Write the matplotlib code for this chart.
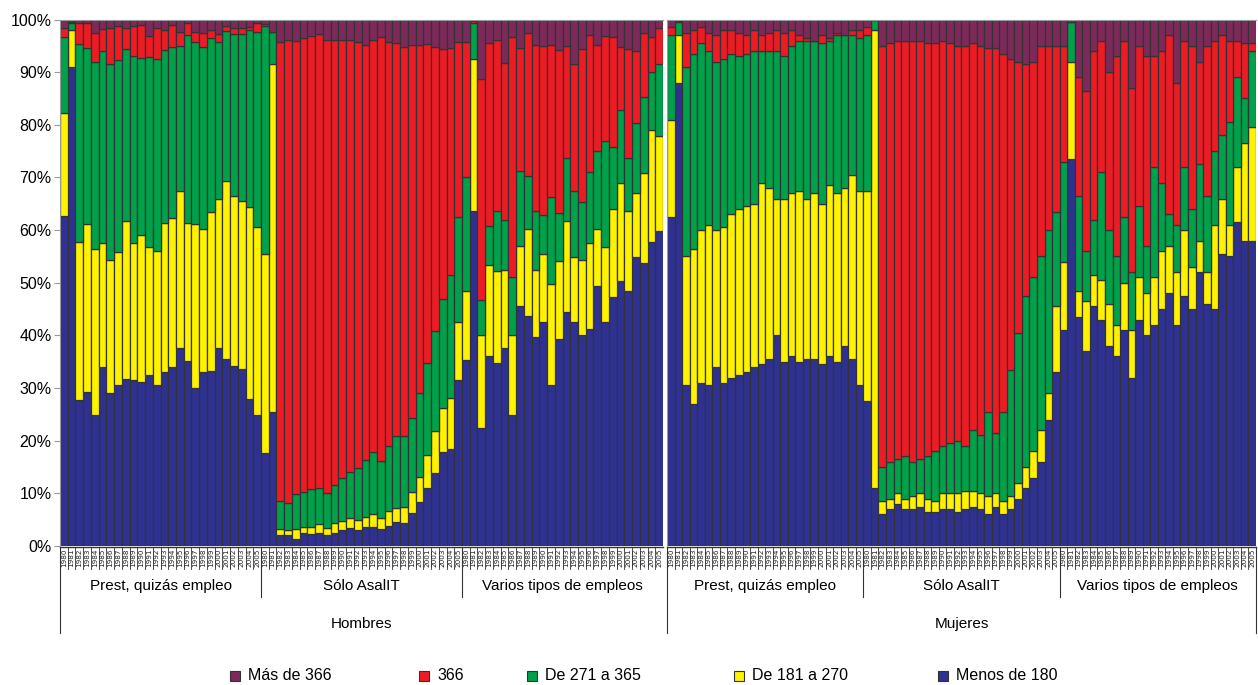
import numpy as np
import matplotlib
matplotlib.use('Agg')
import matplotlib.pyplot as plt
from matplotlib.patches import Rectangle
from matplotlib.lines import Line2D

plt.rcParams['font.family'] = ['Liberation Sans', 'DejaVu Sans']

# ---------------- data (cumulative tops, % ) ----------------
years = [str(y) for y in range(1980, 2005)] + ['2005']
groups = ['Prest, quizás empleo', 'Sólo AsalIT', 'Varios tipos de empleos']
panels = ['Hombres', 'Mujeres']
series = ['Menos de 180', 'De 181 a 270', 'De 271 a 365', '366', 'Más de 366']
colors = ['#2E3192', '#FFF200', '#00A14B', '#ED1C24', '#7D2A5B']

# Hombres
hom_menos180 = [62.6, 91.0, 27.7, 29.2, 24.8, 34.0, 29.0, 30.5, 31.8, 31.5, 31.1, 32.5, 30.5, 33.1, 34.0, 37.6, 35.1, 30.0, 33.0, 33.2, 37.6, 35.6, 34.2, 33.6, 27.9, 24.9,
                17.6, 25.4, 2.0, 2.0, 1.4, 2.4, 2.2, 2.4, 2.0, 2.4, 3.1, 3.4, 3.1, 3.6, 3.6, 3.3, 3.8, 4.5, 4.3, 6.2, 8.3, 11.0, 13.9, 17.9, 18.5, 31.6,
                35.4, 63.6, 22.4, 36.1, 34.8, 37.7, 24.8, 45.6, 43.7, 39.7, 42.5, 30.6, 39.3, 44.5, 42.6, 40.0, 41.3, 49.3, 42.5, 47.2, 50.3, 48.5, 54.9, 53.8, 57.8, 59.8]
hom_181_270 = [82.3, 98.0, 57.7, 61.1, 56.4, 57.6, 54.3, 55.9, 61.8, 57.5, 59.0, 56.7, 56.1, 61.4, 62.3, 67.5, 61.3, 61.1, 60.2, 63.4, 66.0, 69.4, 66.4, 65.6, 64.3, 60.5,
               55.5, 91.5, 3.3, 3.1, 3.3, 3.7, 3.7, 4.1, 3.5, 4.3, 4.7, 5.4, 4.9, 5.6, 6.1, 5.4, 6.7, 7.2, 7.5, 10.3, 13.1, 17.2, 21.8, 26.2, 28.2, 42.5,
               48.5, 92.5, 40.1, 53.4, 52.3, 52.5, 40.0, 57.0, 60.3, 52.5, 55.4, 49.8, 54.1, 61.8, 54.8, 54.4, 57.6, 60.2, 56.7, 64.1, 68.9, 63.6, 67.0, 70.8, 79.1, 77.9]
hom_271_365 = [96.7, 99.3, 95.3, 94.6, 92.0, 94.1, 91.6, 92.3, 94.4, 93.1, 92.6, 92.8, 92.5, 94.2, 94.8, 94.9, 97.0, 95.7, 94.8, 96.4, 95.7, 97.9, 97.2, 97.2, 98.0, 97.7,
               98.7, 97.7, 8.5, 8.2, 9.8, 10.3, 10.8, 11.0, 10.0, 11.6, 13.0, 14.0, 14.8, 16.4, 17.8, 16.1, 18.9, 20.8, 20.8, 24.3, 29.0, 34.8, 40.9, 47.0, 51.5, 62.4,
               70.0, 99.3, 46.7, 60.8, 63.6, 62.0, 51.0, 71.3, 70.2, 63.6, 62.8, 66.2, 63.3, 73.6, 67.5, 65.4, 71.1, 75.0, 77.0, 75.7, 82.8, 73.6, 80.3, 85.2, 90.0, 91.6]
hom_366 = [98.4, 99.6, 99.3, 99.3, 97.5, 98.2, 98.3, 98.8, 98.4, 98.7, 99.0, 96.8, 98.4, 98.0, 99.0, 97.7, 99.3, 97.7, 97.4, 98.0, 97.2, 98.7, 98.4, 98.4, 98.5, 99.3,
           99.2, 97.7, 95.7, 96.1, 95.9, 96.4, 96.9, 97.2, 96.1, 96.2, 96.1, 96.2, 95.7, 95.2, 96.1, 96.7, 95.7, 95.6, 94.8, 95.2, 95.2, 95.4, 94.8, 94.4, 94.6, 95.7,
           95.7, 99.7, 88.7, 95.6, 96.2, 91.8, 96.7, 94.6, 97.4, 95.2, 95.0, 95.1, 94.3, 95.0, 91.5, 94.4, 97.0, 95.1, 96.9, 96.6, 94.8, 94.4, 94.0, 97.5, 96.7, 98.4]

# Mujeres
muj_menos180 = [62.5, 88.0, 30.5, 27.0, 31.0, 30.5, 34.0, 31.0, 32.0, 32.5, 33.0, 34.0, 34.5, 35.5, 40.0, 35.0, 36.0, 35.0, 35.5, 35.5, 34.5, 36.0, 35.0, 38.0, 35.5, 30.5,
                27.5, 11.0, 6.0, 7.0, 8.0, 7.0, 7.0, 7.5, 6.5, 6.5, 7.0, 7.0, 6.5, 7.0, 7.5, 7.0, 6.0, 7.5, 6.0, 7.0, 9.0, 11.0, 13.0, 16.0, 24.0, 33.0,
                41.0, 73.5, 43.5, 37.0, 45.5, 43.0, 38.0, 36.0, 41.0, 32.0, 43.0, 40.0, 42.0, 45.0, 48.0, 42.0, 47.5, 45.0, 52.0, 46.0, 45.0, 55.5, 55.0, 61.5, 58.0, 58.0]
muj_181_270 = [81.0, 97.0, 55.0, 56.5, 60.0, 61.0, 60.0, 60.5, 63.0, 64.0, 64.5, 65.0, 69.0, 68.0, 66.0, 66.0, 67.0, 67.5, 66.0, 67.0, 65.0, 68.5, 67.0, 68.0, 70.5, 67.5,
               67.5, 98.0, 8.5, 9.0, 10.0, 9.0, 9.5, 10.0, 9.0, 8.5, 10.0, 10.0, 10.0, 10.5, 10.5, 10.0, 9.5, 10.0, 8.5, 9.5, 12.0, 15.0, 18.0, 22.0, 29.0, 45.5,
               54.0, 92.0, 48.5, 46.5, 51.5, 50.5, 46.0, 42.0, 50.0, 41.0, 51.0, 48.0, 51.0, 56.0, 57.0, 52.0, 60.0, 53.0, 58.0, 52.0, 61.0, 66.0, 61.0, 72.0, 76.5, 79.5]
muj_271_365 = [97.0, 99.5, 91.0, 93.5, 95.5, 94.0, 92.0, 92.5, 93.5, 93.0, 93.5, 94.0, 94.0, 94.0, 94.0, 93.0, 95.0, 96.0, 96.0, 96.0, 95.5, 96.0, 97.0, 97.0, 97.0, 96.5,
               97.0, 100.0, 15.0, 16.0, 16.5, 17.0, 16.0, 16.5, 17.0, 18.0, 19.0, 19.5, 20.0, 19.0, 22.0, 21.0, 25.5, 21.5, 25.5, 33.5, 40.5, 47.5, 51.0, 55.0, 60.0, 63.5,
               73.0, 99.5, 66.5, 56.0, 62.0, 71.0, 60.0, 55.0, 62.5, 52.0, 64.5, 57.0, 72.0, 69.0, 63.0, 61.0, 72.0, 64.0, 72.5, 66.5, 75.0, 78.0, 80.5, 89.0, 85.0, 94.0]
muj_366 = [98.5, 99.7, 97.5, 98.0, 98.5, 97.5, 97.0, 98.0, 98.0, 97.5, 97.0, 98.0, 97.0, 97.5, 98.0, 97.5, 98.0, 97.0, 96.5, 96.0, 97.0, 96.5, 97.5, 97.0, 98.0, 98.0,
           98.5, 100.0, 95.0, 95.5, 96.0, 96.0, 96.0, 96.0, 95.5, 95.5, 96.0, 95.5, 95.0, 95.0, 95.5, 95.0, 94.5, 94.5, 93.5, 92.5, 92.0, 91.5, 92.0, 95.0, 95.0, 95.0,
           95.0, 99.5, 89.0, 86.5, 94.0, 96.0, 90.0, 93.0, 96.0, 87.0, 95.0, 93.0, 93.0, 94.0, 97.0, 88.0, 96.0, 95.0, 92.0, 95.0, 96.0, 97.0, 96.0, 96.0, 95.5, 95.5]

W, H = 1258, 685
fig = plt.figure(figsize=(W / 100, H / 100), dpi=100)

y0px, y100px = 546.0, 19.5
axh_px = y0px - y100px


def yf(ypx):
    return (y0px - ypx) / axh_px


def make_ax(x0, x1):
    return fig.add_axes([x0 / W, (H - y0px) / H, (x1 - x0) / W, axh_px / H])


axes = [make_ax(60, 663), make_ax(667, 1256)]
data = [[hom_menos180, hom_181_270, hom_271_365, hom_366],
        [muj_menos180, muj_181_270, muj_271_365, muj_366]]

n = 78
x = np.arange(n)
for pi, (ax, tops) in enumerate(zip(axes, data)):
    cum = [np.zeros(n)] + [np.array(t, float) for t in tops] + [np.full(n, 100.0)]
    for si in range(5):
        ax.bar(x, cum[si + 1] - cum[si], bottom=cum[si], width=1.0,
               color=colors[si], edgecolor='#333333', linewidth=0.9, zorder=2)
    ax.set_xlim(-0.5, n - 0.5)
    ax.set_ylim(0, 100)
    for s in ['right', 'bottom']:
        ax.spines[s].set_visible(False)
    ax.spines['top'].set_color('#9a9a9a')
    ax.spines['left'].set_color('#9a9a9a')
    ax.set_xticks([])
    if pi == 0:
        ax.set_yticks(np.arange(0, 101, 10))
        ax.set_yticklabels([f'{v}%' for v in range(0, 101, 10)], fontsize=11.5)
        ax.tick_params(axis='y', length=4, color='#9a9a9a', pad=2)
    else:
        ax.set_yticks([])
    tr = ax.get_xaxis_transform()
    ax.add_line(Line2D([-0.5, n - 0.5], [yf(547), yf(547)], transform=tr,
                       color='#333333', lw=1, clip_on=False))
    for gi in range(3):
        for yi, lab in enumerate(years):
            xi = gi * 26 + yi
            ax.text(xi, yf(558), lab, rotation=90, ha='center', va='center',
                    fontsize=5.2, transform=tr, family='DejaVu Sans', color='#222222')
            ax.add_line(Line2D([xi - 0.5, xi - 0.5], [yf(547), yf(569)], transform=tr,
                               color='#333333', lw=0.6, clip_on=False))
        gx = gi * 26 - 0.5
        if gi > 0:
            ax.add_line(Line2D([gx, gx], [yf(547), yf(597)], transform=tr,
                               color='#333333', lw=0.8, clip_on=False))
        ax.text(gi * 26 + 12.5, yf(586), groups[gi], ha='center', va='center',
                fontsize=11, transform=tr)
    ax.add_line(Line2D([-0.5, -0.5], [yf(547), yf(633)], transform=tr,
                       color='#333333', lw=0.8, clip_on=False))
    ax.text(38.5, yf(624), panels[pi], ha='center', va='center', fontsize=11, transform=tr)
    ax.set_facecolor('none')

axes[1].add_line(Line2D([n - 0.5, n - 0.5], [yf(547), yf(633)], transform=axes[1].get_xaxis_transform(),
                        color='#333333', lw=0.8, clip_on=False))

# legend
leg_x = [230, 419, 527, 734, 938]
leg_order = [4, 3, 2, 1, 0]
for lx, si in zip(leg_x, leg_order):
    fig.patches.append(Rectangle((lx / W, (H - 681) / H), 10 / W, 10 / H, transform=fig.transFigure,
                                 facecolor=colors[si], edgecolor='#333333', linewidth=0.8))
    fig.text((lx + 18) / W, (H - 676) / H, series[si], ha='left', va='center', fontsize=11.5)

fig.savefig('out.png', dpi=100)
